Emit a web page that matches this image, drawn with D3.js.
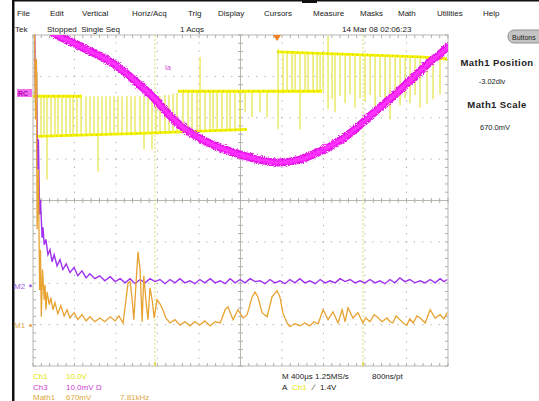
<!DOCTYPE html>
<html><head><meta charset="utf-8">
<script src="https://cdn.jsdelivr.net/npm/d3@7"></script>
<style>
html,body{margin:0;padding:0;background:#fff;}
svg{display:block;font-family:"Liberation Sans",Arial,sans-serif;}
</style></head><body>
<svg id="scope" width="539" height="401"></svg>
<script>
// ---- instrument text ----
const menuItems = ["File","Edit","Vertical","Horiz/Acq","Trig","Display","Cursors","Measure","Masks","Math","Utilities","Help"];
const statusItems = ["Tek","Stopped  Single Seq","1 Acqs","14 Mar 08 02:06:23"];
const m1Position = -3.02;   // div
const m2Position = -2.06;   // div
const m1Scale = "670.0mV";

// ---- Ch1 (switching voltage): flat levels [t0 µs, t1 µs, v0 div, v1 div] ----
const ch1Levels = [
  [0, 472, 2.52, 2.52],
  [29, 1031, 1.55, 1.62],
  [1031, 2063, 1.62, 1.72],
  [1398, 2786, 2.64, 2.64],
  [2352, 3731, 3.59, 3.47],
  [3731, 3991, 3.47, 3.42]
];
// Ch1 switching edges [t µs, low div, high div]
const ch1Pulses = [
  [39,0.70,3.10],[77,1.55,2.52],[106,1.55,2.52],[135,0.51,2.52],[174,1.55,2.52],[212,1.55,2.52],
  [241,1.55,2.52],[280,1.55,2.52],[318,1.55,2.52],[357,1.55,2.52],[386,1.55,2.52],[424,1.55,2.52],[463,1.55,2.52],
  [511,1.58,2.52],[549,1.58,2.52],[588,1.58,2.52],[627,0.70,2.52],[665,1.58,2.52],[704,1.58,2.52],
  [742,1.58,2.52],[781,1.58,2.52],[819,1.58,2.52],[858,1.58,2.52],[906,1.58,2.52],[945,1.58,2.52],
  [983,1.58,2.52],[1031,1.60,2.52],[1070,1.24,2.52],[1109,1.60,2.52],[1147,1.24,2.52],[1186,1.62,2.52],
  [1224,1.62,2.52],[1272,1.62,2.55],[1311,1.63,2.55],[1350,1.63,2.58],[1388,1.64,2.60],
  [1446,1.67,2.64],[1494,1.67,2.64],[1533,1.67,2.64],[1581,1.67,2.64],[1610,1.67,3.47],[1658,1.67,2.64],
  [1706,1.67,2.64],[1735,1.67,2.64],[1774,1.67,2.64],[1822,1.67,2.64],[1870,1.67,2.64],[1899,1.67,2.64],
  [1947,1.67,2.64],[1995,1.67,2.64],[2044,2.13,2.64],[2111,2.01,2.64],[2188,2.13,2.64],[2256,2.01,2.64],
  [2362,1.72,3.66],[2410,2.64,3.54],[2449,2.64,3.54],[2497,2.64,3.54],[2526,2.64,3.54],[2574,1.72,3.54],
  [2622,2.64,3.54],[2651,2.64,3.54],[2699,2.64,3.54],[2738,2.64,3.54],[2767,2.64,3.54],[2796,2.64,3.54],
  [2844,2.21,3.98],[2882,2.45,3.54],[2911,2.13,3.54],[2959,2.52,3.52],[3008,2.35,3.52],[3056,2.57,3.52],
  [3104,2.25,3.52],[3152,2.47,3.52],[3200,2.40,3.52],[3249,2.55,3.49],[3297,2.21,3.49],[3345,2.50,3.49],
  [3393,2.38,3.49],[3441,1.96,3.49],[3490,2.52,3.49],[3538,2.30,3.49],[3586,2.47,3.47],[3634,2.35,3.47],
  [3682,2.55,3.47],[3731,2.25,3.47],[3798,2.33,3.45],[3856,2.45,3.45],[3923,2.57,3.43]
];

// ---- Ch3 (current, Ia) ----
const ch3Time = [67,212,308,453,646,810,964,1128,1292,1417,1610,1803,2092,2352,2574,2767,2959,3104,3248,3393,3537,3682,3827,3923,4019];
const ch3Div  = [4.27,4.02,3.90,3.73,3.49,3.25,2.93,2.57,2.13,1.82,1.50,1.28,1.04,0.92,0.99,1.19,1.45,1.72,2.04,2.35,2.67,3.01,3.35,3.54,3.76];

// ---- Math1 FFT (orange), horizontal position in div, level in div above M1 ----
const m1X = [0.01,0.04,0.06,0.08,0.10,0.13,0.16,0.18,0.20,0.23,0.27,0.29,0.31,0.34,0.39,0.43,0.48,0.53,0.60,0.67,
  0.75,0.82,0.89,0.99,1.08,1.18,1.28,1.37,1.49,1.61,1.73,1.86,1.98,2.07,2.17,2.24,2.29,2.34,2.39,2.43,
  2.48,2.53,2.58,2.63,2.67,2.72,2.77,2.82,2.87,2.92,2.99,3.06,3.13,3.20,3.30,3.42,3.54,3.66,3.78,3.90,
  4.02,4.14,4.27,4.39,4.51,4.63,4.70,4.82,4.94,5.06,5.16,5.28,5.35,5.42,5.52,5.64,5.76,5.88,5.95,6.02,
  6.12,6.19,6.31,6.43,6.55,6.67,6.77,6.87,6.99,7.11,7.23,7.35,7.45,7.52,7.59,7.71,7.83,7.95,8.02,8.12,
  8.22,8.29,8.41,8.53,8.60,8.67,8.75,8.84,8.94,9.01,9.08,9.16,9.25,9.33,9.45,9.57,9.69,9.81,9.90,9.98];
const m1Level = [7.41,7.02,4.98,6.44,2.32,3.77,0.86,1.83,0.21,1.35,0.62,0.98,0.38,0.81,0.50,0.67,0.38,0.55,0.28,0.48,
  0.23,0.38,0.18,0.31,0.14,0.26,0.11,0.21,0.09,0.18,0.09,0.21,0.11,0.23,0.06,0.62,1.03,1.06,0.62,0.14,
  0.98,1.78,1.35,0.09,1.20,0.62,0.14,0.91,0.62,0.18,0.62,0.52,0.38,0.18,0.06,0.14,0.01,0.09,-0.01,0.09,
  0.01,0.11,-0.01,0.09,0.06,0.38,0.45,0.14,0.38,0.18,0.26,0.69,0.81,0.69,0.31,0.21,0.69,0.84,0.69,0.31,
  0.06,-0.03,0.04,-0.01,0.06,-0.01,0.09,0.04,0.38,0.14,0.33,0.06,0.38,0.09,0.43,0.18,0.31,0.06,0.18,0.09,
  0.26,0.21,0.09,0.18,0.09,0.06,0.23,0.14,0.04,0.01,0.16,0.06,0.23,0.18,0.06,0.38,0.18,0.26,0.16,0.31];

// ---- Math2 FFT (purple) ----
const m2X = [0.04,0.06,0.08,0.11,0.13,0.16,0.18,0.22,0.24,0.27,0.31,0.36,0.41,0.46,0.51,0.58,0.65,0.72,0.80,0.89,
  0.99,1.08,1.18,1.28,1.37,1.49,1.61,1.73,1.86,1.98,2.10,2.22,2.34,2.46,2.58,2.70,2.82,2.94,3.06,3.18,
  3.30,3.42,3.54,3.66,3.78,3.90,4.02,4.14,4.27,4.39,4.51,4.63,4.75,4.87,4.99,5.11,5.23,5.35,5.47,5.59,
  5.71,5.83,5.95,6.07,6.19,6.31,6.43,6.55,6.67,6.80,6.92,7.04,7.16,7.28,7.40,7.52,7.64,7.76,7.88,8.00,
  8.12,8.24,8.36,8.48,8.60,8.72,8.84,8.96,9.08,9.20,9.33,9.45,9.57,9.69,9.81,9.90,9.98];
const m2Level = [6.21,4.51,5.48,2.81,3.54,1.72,2.08,1.16,1.41,0.99,1.12,0.75,0.87,0.58,0.75,0.48,0.63,0.39,0.53,0.32,
  0.44,0.24,0.36,0.19,0.29,0.17,0.24,0.12,0.22,0.10,0.17,0.07,0.17,0.05,0.15,0.07,0.17,0.10,0.15,0.05,
  0.15,0.07,0.17,0.07,0.12,0.05,0.15,0.07,0.17,0.07,0.12,0.05,0.17,0.07,0.15,0.07,0.17,0.10,0.12,0.05,
  0.15,0.07,0.12,0.05,0.15,0.07,0.17,0.07,0.12,0.05,0.15,0.07,0.12,0.07,0.17,0.10,0.15,0.07,0.12,0.07,
  0.15,0.07,0.12,0.05,0.15,0.07,0.19,0.10,0.15,0.07,0.12,0.07,0.15,0.07,0.17,0.10,0.15];

// ---- cursors (time, µs) ----
const cursorTimes = [1176, 3181];

// ---- footer readouts ----
const footLeft = [
  {a:"Ch1", b:"10.0V", c:"", color:"#e4e400"},
  {a:"Ch3", b:"10.0mV \u03A9", c:"", color:"#d040d0"},
  {a:"Math1", b:"670mV", c:"7.81kHz", color:"#e0a840"}
];

// ================= drawing =================
const svg = d3.select("#scope");
const gx0 = 33, gx1 = 448, gy0 = 35, gy1 = 366;
const xTime = d3.scaleLinear().domain([0, 4000]).range([gx0, gx1]);
const xDiv  = d3.scaleLinear().domain([0, 10]).range([gx0, gx1]);
const yDiv  = d3.scaleLinear().domain([-4, 4]).range([gy1, gy0]);

// acquisition noise texture for the wide current trace
const defs = svg.append("defs");
const rough = defs.append("filter").attr("id","rough").attr("x","-5%").attr("y","-5%").attr("width","110%").attr("height","110%");
rough.append("feTurbulence").attr("type","fractalNoise").attr("baseFrequency","0.9").attr("numOctaves",1).attr("seed",3).attr("result","n");
rough.append("feDisplacementMap").attr("in","SourceGraphic").attr("in2","n").attr("scale",5)
  .attr("xChannelSelector","R").attr("yChannelSelector","G");

// frame edges
svg.append("rect").attr("x",12).attr("y",0).attr("width",2.5).attr("height",401).attr("fill","#111");
svg.append("rect").attr("x",12).attr("y",0).attr("width",527).attr("height",1.5).attr("fill","#111");
svg.append("rect").attr("x",302).attr("y",0).attr("width",15).attr("height",3).attr("fill","#111");

// menu bar
const menuX = [17,50,82,132,188,218,264,313,360,398,437,483];
svg.selectAll("text.menu").data(menuItems).join("text")
  .attr("class","menu").attr("x",(d,i)=>menuX[i]).attr("y",16)
  .attr("font-size",8).attr("fill","#222").text(d=>d);
const statusX = [15,47,180,342];
svg.selectAll("text.status").data(statusItems).join("text")
  .attr("class","status").attr("x",(d,i)=>statusX[i]).attr("y",32)
  .attr("font-size",8).attr("fill","#222").style("white-space","pre").text(d=>d);

// graticule
const grid = svg.append("g");
grid.append("rect").attr("x",gx0).attr("y",gy0).attr("width",gx1-gx0).attr("height",gy1-gy0)
  .attr("fill","#fff").attr("stroke","#b8b8b0").attr("stroke-width",1);
const dash = "1.2,7.1";
d3.range(1,10).forEach(i=>{
  if(i===5) return;
  grid.append("line").attr("x1",xDiv(i)).attr("x2",xDiv(i)).attr("y1",gy0).attr("y2",gy1)
    .attr("stroke","#aaa").attr("stroke-width",1).attr("stroke-dasharray",dash).attr("stroke-dashoffset",-7.3);
});
d3.range(-3,4).forEach(j=>{
  if(j===0) return;
  grid.append("line").attr("y1",yDiv(j)).attr("y2",yDiv(j)).attr("x1",gx0).attr("x2",gx1)
    .attr("stroke","#aaa").attr("stroke-width",1).attr("stroke-dasharray",dash).attr("stroke-dashoffset",-7.3);
});
// center cross with minor ticks, edge ticks
grid.append("line").attr("x1",xDiv(5)).attr("x2",xDiv(5)).attr("y1",gy0).attr("y2",gy1).attr("stroke","#b8b8b0");
grid.append("line").attr("y1",yDiv(0)).attr("y2",yDiv(0)).attr("x1",gx0).attr("x2",gx1).attr("stroke","#b8b8b0");
const minorX = d3.range(0, 10.01, 0.2), minorY = d3.range(-4, 4.01, 0.2);
minorX.forEach(v=>{
  const x = xDiv(v);
  grid.append("line").attr("x1",x).attr("x2",x).attr("y1",yDiv(0)-2.5).attr("y2",yDiv(0)+2.5).attr("stroke","#b0b0a8");
  grid.append("line").attr("x1",x).attr("x2",x).attr("y1",gy0).attr("y2",gy0+3).attr("stroke","#b0b0a8");
  grid.append("line").attr("x1",x).attr("x2",x).attr("y1",gy1-3).attr("y2",gy1).attr("stroke","#b0b0a8");
});
minorY.forEach(v=>{
  const y = yDiv(v);
  grid.append("line").attr("y1",y).attr("y2",y).attr("x1",xDiv(5)-2.5).attr("x2",xDiv(5)+2.5).attr("stroke","#b0b0a8");
  grid.append("line").attr("y1",y).attr("y2",y).attr("x1",gx0).attr("x2",gx0+3).attr("stroke","#b0b0a8");
  grid.append("line").attr("y1",y).attr("y2",y).attr("x1",gx1-3).attr("x2",gx1).attr("stroke","#b0b0a8");
});

// clip
svg.append("clipPath").attr("id","plot").append("rect")
  .attr("x",gx0).attr("y",gy0).attr("width",gx1-gx0).attr("height",gy1-gy0);
const plot = svg.append("g").attr("clip-path","url(#plot)");

// cursors
cursorTimes.forEach(t=>{
  plot.append("line").attr("x1",xTime(t)).attr("x2",xTime(t)).attr("y1",gy0).attr("y2",gy1)
    .attr("stroke","#dede70").attr("stroke-width",1).attr("stroke-dasharray","2,2");
  svg.append("line").attr("x1",xTime(t)).attr("x2",xTime(t)).attr("y1",gy1-4).attr("y2",gy1)
    .attr("stroke","#d8d040").attr("stroke-width",1.5);
});

// Ch1
plot.selectAll("line.pulse").data(ch1Pulses).join("line").attr("class","pulse")
  .attr("x1",d=>xTime(d[0])).attr("x2",d=>xTime(d[0]))
  .attr("y1",d=>yDiv(d[1])).attr("y2",d=>yDiv(d[2]))
  .attr("stroke","#e6e650").attr("stroke-width",1.3);
plot.selectAll("line.level").data(ch1Levels).join("line").attr("class","level")
  .attr("x1",d=>xTime(d[0])).attr("x2",d=>xTime(d[1]))
  .attr("y1",d=>yDiv(d[2])).attr("y2",d=>yDiv(d[3]))
  .attr("stroke","#f4f400").attr("stroke-width",2.8);
plot.selectAll("line.levelDots").data(ch1Levels).join("line").attr("class","levelDots")
  .attr("x1",d=>xTime(d[0])).attr("x2",d=>xTime(d[1]))
  .attr("y1",d=>yDiv(d[2])).attr("y2",d=>yDiv(d[3]))
  .attr("stroke","#b8b820").attr("stroke-width",2).attr("stroke-dasharray","1,4").attr("opacity",0.55);

// Ch3
const ch3Pts = ch3Time.map((t,i)=>[t, ch3Div[i]]);
const ch3Line = d3.line().x(d=>xTime(d[0])).y(d=>yDiv(d[1])).curve(d3.curveCatmullRom);
const ch3g = plot.append("g").attr("filter","url(#rough)");
ch3g.append("path").attr("d",ch3Line(ch3Pts)).attr("fill","none")
  .attr("stroke","#e818e8").attr("stroke-width",8);
ch3g.append("path").attr("d",ch3Line(ch3Pts)).attr("fill","none")
  .attr("stroke","#ff30ff").attr("stroke-width",4);

// Math traces
const m2Line = d3.line().x(d=>xDiv(d[0])).y(d=>yDiv(d[1] + m2Position));
plot.append("path").attr("d",m2Line(m2X.map((x,i)=>[x,m2Level[i]]))).attr("fill","none")
  .attr("stroke","#a030f0").attr("stroke-width",1.4);
const m1Line = d3.line().x(d=>xDiv(d[0])).y(d=>yDiv(d[1] + m1Position));
plot.append("path").attr("d",m1Line(m1X.map((x,i)=>[x,m1Level[i]]))).attr("fill","none")
  .attr("stroke","#e8a230").attr("stroke-width",1.3);

// trigger position marker
svg.append("path").attr("d",`M${xTime(2352)-4},${gy0} L${xTime(2352)+4},${gy0} L${xTime(2352)},${gy0+6} Z`).attr("fill","#f08020");

// labels in graticule
svg.append("text").attr("x",165).attr("y",70).attr("font-size",7).attr("fill","#d040d0").text("Ia");

// left reference markers
svg.append("rect").attr("x",17).attr("y",89).attr("width",15).attr("height",8).attr("fill","#f070f0");
svg.append("text").attr("x",18).attr("y",96).attr("font-size",7).attr("font-weight","bold").attr("fill","#b000b0").text("RC");
[["M2", m2Position, "#a060e8"], ["M1", m1Position, "#e0a840"]].forEach(([lab,pos,col])=>{
  svg.append("text").attr("x",14).attr("y",yDiv(pos)+3).attr("font-size",8).attr("fill",col).text(lab);
  svg.append("circle").attr("cx",30.5).attr("cy",yDiv(pos)).attr("r",1.5).attr("fill",col);
});

// side panel
svg.append("rect").attr("x",508).attr("y",30).attr("width",40).attr("height",13).attr("rx",6)
  .attr("fill","#c4c4c4").attr("stroke","#909090");
svg.append("text").attr("x",512).attr("y",40).attr("font-size",7).attr("fill","#222").text("Buttons");
svg.append("text").attr("x",497).attr("y",66).attr("text-anchor","middle").attr("font-size",9.5)
  .attr("letter-spacing",0.4).attr("font-weight","bold").attr("fill","#222").text("Math1 Position");
svg.append("text").attr("x",492).attr("y",84).attr("text-anchor","middle").attr("font-size",7.5)
  .attr("fill","#222").text(m1Position.toFixed(2) + "div");
svg.append("text").attr("x",497).attr("y",108).attr("text-anchor","middle").attr("font-size",9.5)
  .attr("letter-spacing",0.4).attr("font-weight","bold").attr("fill","#222").text("Math1 Scale");
svg.append("text").attr("x",495).attr("y",130).attr("text-anchor","middle").attr("font-size",7.5)
  .attr("fill","#222").text(m1Scale);

// footer
footLeft.forEach((r,i)=>{
  const y = 379 + i*10.5;
  svg.append("text").attr("x",33).attr("y",y).attr("font-size",8).attr("fill",r.color).text(r.a);
  svg.append("text").attr("x",66).attr("y",y).attr("font-size",8).attr("fill",r.color).text(r.b);
  if(r.c) svg.append("text").attr("x",120).attr("y",y).attr("font-size",8).attr("fill",r.color).text(r.c);
});
svg.append("text").attr("x",282).attr("y",379).attr("font-size",8).attr("fill","#222").text("M 400\u00B5s 1.25MS/s");
svg.append("text").attr("x",372).attr("y",379).attr("font-size",8).attr("fill","#222").text("800ns/pt");
svg.append("text").attr("x",282).attr("y",390).attr("font-size",8).attr("fill","#222").text("A");
svg.append("text").attr("x",292).attr("y",390).attr("font-size",8).attr("fill","#e4e400").text("Ch1");
svg.append("text").attr("x",313).attr("y",390).attr("font-size",8).attr("fill","#222").text("\u2215");
svg.append("text").attr("x",320).attr("y",390).attr("font-size",8).attr("fill","#222").text("1.4V");
</script>
</body></html>
